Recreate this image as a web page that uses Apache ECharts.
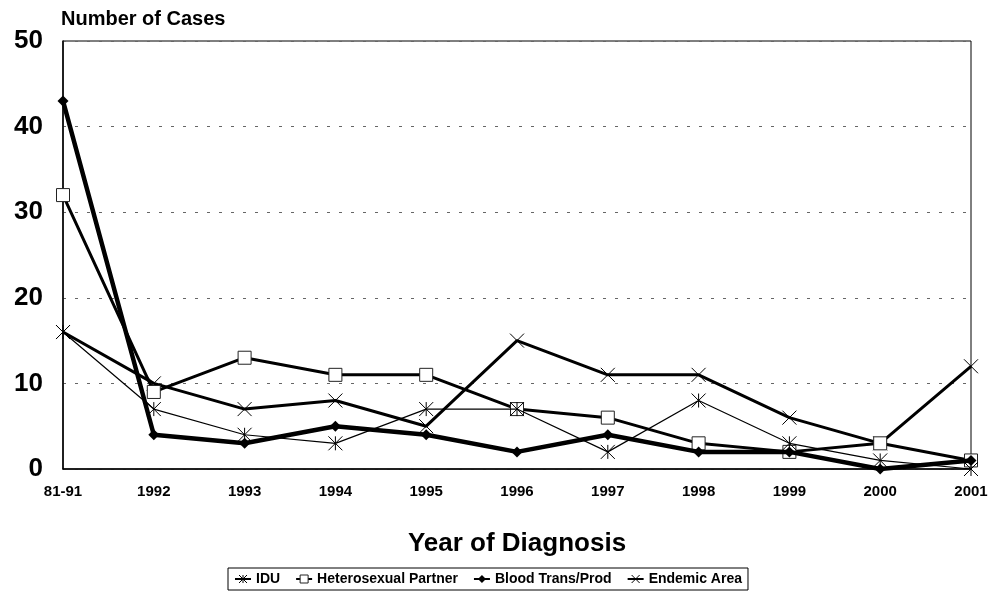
<!DOCTYPE html>
<html lang="en">
<head>
    <meta charset="UTF-8">
    <title>Number of Cases by Year of Diagnosis</title>
</head>
<body style="margin:0">
<div id="main" style="width: 994px;height:592px;background-color: #ffffff"></div>
</body>
<script src="https://cdn.jsdelivr.net/npm/echarts@6/dist/echarts.min.js"></script>
<script>
    //数据
    var years = ['81-91', '1992', '1993', '1994', '1995', '1996', '1997', '1998', '1999', '2000', '2001'];
    var idu = [16, 7, 4, 3, 7, 7, 2, 8, 3, 1, 0];
    var hetero = [32, 9, 13, 11, 11, 7, 6, 3, 2, 3, 1];
    var blood = [43, 4, 3, 5, 4, 2, 4, 2, 2, 0, 1];
    var endemic = [16, 10, 7, 8, 5, 15, 11, 11, 6, 3, 12];
    var yTicks = [0, 10, 20, 30, 40, 50];

    var font = 'Liberation Sans, Arial, sans-serif';
    // 自定义标记
    var starPath = 'path://M0 0 L10 10 M10 0 L0 10 M5 0 L5 10';
    var crossPath = 'path://M0 0 L10 10 M10 0 L0 10';

    var app = echarts.init(document.getElementById('main'));
    var option = {
        animation: false,
        textStyle: {fontFamily: font},
        legend: {
            bottom: 2,
            left: 228,
            itemWidth: 16,
            itemHeight: 10,
            itemGap: 15,
            itemStyle: {borderWidth: 1},
            padding: [4, 6],
            borderColor: '#000',
            borderWidth: 1,
            textStyle: {fontFamily: font, fontWeight: 'bold', fontSize: 14, color: '#000'},
            data: ['IDU', 'Heterosexual Partner', 'Blood Trans/Prod', 'Endemic Area']
        },
        grid: {
            left: 63,
            right: 23,
            top: 41,
            bottom: 123,
            show: true,
            borderColor: '#000',
            borderWidth: 1
        },
        xAxis: {
            type: 'category',
            boundaryGap: false,
            data: years,
            name: 'Year of Diagnosis',
            nameLocation: 'middle',
            nameGap: 62,
            nameTextStyle: {fontFamily: font, fontWeight: 'bold', fontSize: 26, color: '#000'},
            axisLine: {lineStyle: {color: '#000', width: 1.5}},
            axisTick: {show: false},
            axisLabel: {fontFamily: font, fontWeight: 'bold', fontSize: 15, color: '#000', margin: 15}
        },
        yAxis: {
            type: 'value',
            min: yTicks[0],
            max: yTicks[yTicks.length - 1],
            interval: 10,
            name: 'Number of Cases',
            nameLocation: 'end',
            nameGap: 12,
            nameTextStyle: {fontFamily: font, fontWeight: 'bold', fontSize: 20, color: '#000', align: 'left', padding: [0, 0, 0, -2]},
            axisLine: {show: true, lineStyle: {color: '#000', width: 1.5}},
            axisTick: {show: false},
            axisLabel: {fontFamily: font, fontWeight: 'bold', fontSize: 26, color: '#000', margin: 20},
            splitLine: {lineStyle: {color: '#666', type: [3, 9], width: 1}}
        },
        series: [
            {
                name: 'IDU',
                type: 'line',
                data: idu,
                symbol: starPath,
                symbolSize: 14,
                lineStyle: {color: '#000', width: 1.2},
                itemStyle: {color: 'transparent', borderColor: '#000', borderWidth: 1},
                z: 5
            },
            {
                name: 'Heterosexual Partner',
                type: 'line',
                data: hetero,
                symbol: 'rect',
                symbolSize: 13,
                lineStyle: {color: '#000', width: 3},
                itemStyle: {color: '#fff', borderColor: '#222', borderWidth: 1},
                z: 3
            },
            {
                name: 'Blood Trans/Prod',
                type: 'line',
                data: blood,
                symbol: 'diamond',
                symbolSize: 11,
                lineStyle: {color: '#000', width: 4.5},
                itemStyle: {color: '#000'},
                z: 4
            },
            {
                name: 'Endemic Area',
                type: 'line',
                data: endemic,
                symbol: crossPath,
                symbolSize: 14,
                lineStyle: {color: '#000', width: 3},
                itemStyle: {color: 'transparent', borderColor: '#000', borderWidth: 1},
                z: 2
            }
        ]
    };
    app.setOption(option);
</script>
</html>
